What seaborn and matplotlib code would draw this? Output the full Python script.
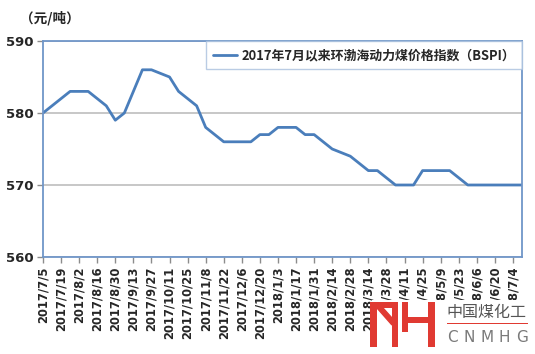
import matplotlib
matplotlib.use("Agg")
import matplotlib.pyplot as plt
from matplotlib.patches import Rectangle, Polygon
import seaborn as sns
import pandas as pd
import numpy as np

# ---- data ----
dates = pd.date_range("2017-07-05", periods=54, freq="7D")
values = [580, 581, 582, 583, 583, 583, 582, 581, 579, 580,
          583, 586, 586, 585.5, 585, 583, 582, 581, 578, 577,
          576, 576, 576, 576, 577, 577, 578, 578, 578, 577,
          577, 576, 575, 574.5, 574, 573, 572, 572, 571, 570,
          570, 570, 572, 572, 572, 572, 571, 570, 570, 570,
          570, 570, 570, 570]
tick_labels = [f"{d.year}/{d.month}/{d.day}" for d in dates[::2]]
series_name = "2017年7月以来环渤海动力煤价格指数（BSPI）"
y_ticks = [560, 570, 580, 590]

df = pd.DataFrame({"idx": np.arange(len(values)), "value": values, "series": series_name})

sns.set_theme(style="white")
plt.rcParams['font.family'] = ['DejaVu Sans', 'Noto Sans CJK SC']

W, H = 535, 354
fig = plt.figure(figsize=(W/100, H/100), dpi=100)
ax = fig.add_axes([43/W, 1-257/H, (522-43)/W, (257-41)/H])

line_color = "#4A7EBB"
sns.lineplot(data=df, x="idx", y="value", hue="series", palette=[line_color],
             linewidth=2.0, ax=ax)

ax.set_xlim(0, len(values) - 1)
ax.set_ylim(560, 590)
ax.set_yticks(y_ticks)
ax.set_yticklabels([str(v) for v in y_ticks], fontsize=9.5, fontweight="bold",
                   family="DejaVu Sans")
ax.set_xticks(np.arange(0, len(values), 2))
ax.set_xticklabels(tick_labels, rotation=90, fontsize=8.3, fontweight="bold",
                   family="DejaVu Sans")
ax.set_xlabel("")
ax.set_ylabel("")

ax.yaxis.grid(True, color="#BEBEBE", linewidth=1.2)
ax.set_axisbelow(True)
for s in ax.spines.values():
    s.set_color("#7096C8")
    s.set_linewidth(1.3)
ax.tick_params(axis="both", which="both", direction="out", length=4, width=1,
               color="#8C8C8C", pad=3, bottom=True, left=True)

leg = ax.legend(loc="upper right", bbox_to_anchor=(1.0, 1.0), borderaxespad=0,
                frameon=True, fancybox=False, edgecolor="#A9C0DE",
                prop={"family": "Noto Sans CJK SC", "weight": "bold", "size": 9.3},
                handlelength=1.9, handletextpad=0.3, borderpad=0.55)
leg.get_frame().set_linewidth(1.0)

fig.text(20/W, 1-18/H, "（元/吨）", fontsize=9.8, fontweight="bold",
         family="Noto Sans CJK SC", va="center", ha="left")

# ---- watermark logo (covers part of the tick labels, as in the reference) ----
def frect(x0, y0, w, h, color, z=10):
    fig.patches.append(Rectangle((x0/W, 1-(y0+h)/H), w/W, h/H,
                                 transform=fig.transFigure, color=color, zorder=z,
                                 linewidth=0))

frect(372, 300, W-372, H-300, "white", z=9)
red = "#E03A32"
for (x0, y0, w, h) in [(370, 302, 7, 45), (370, 302, 28, 6), (392, 302, 6, 45),
                       (402, 302, 6, 30), (402, 317, 33, 6), (428, 302, 7, 45)]:
    frect(x0, y0, w, h, red)
poly = [(377, 308), (383, 308), (392, 318), (392, 325)]
fig.patches.append(Polygon([(x/W, 1-y/H) for x, y in poly], closed=True,
                           transform=fig.transFigure, color=red, zorder=10))
frect(447, 322.5, 81, 1.3, red)
fig.text(446/W, 1-312/H, "中国煤化工", fontsize=11.5, color="#555555",
         family="Noto Sans CJK SC", va="center", ha="left", zorder=11)
for i, ch in enumerate("CNMHG"):
    fig.text((452 + i*17.5)/W, 1-338/H, ch, fontsize=11, color="#7A7A7A",
             family="DejaVu Sans", va="center", ha="center", zorder=11)

fig.savefig("out.png", dpi=100)
